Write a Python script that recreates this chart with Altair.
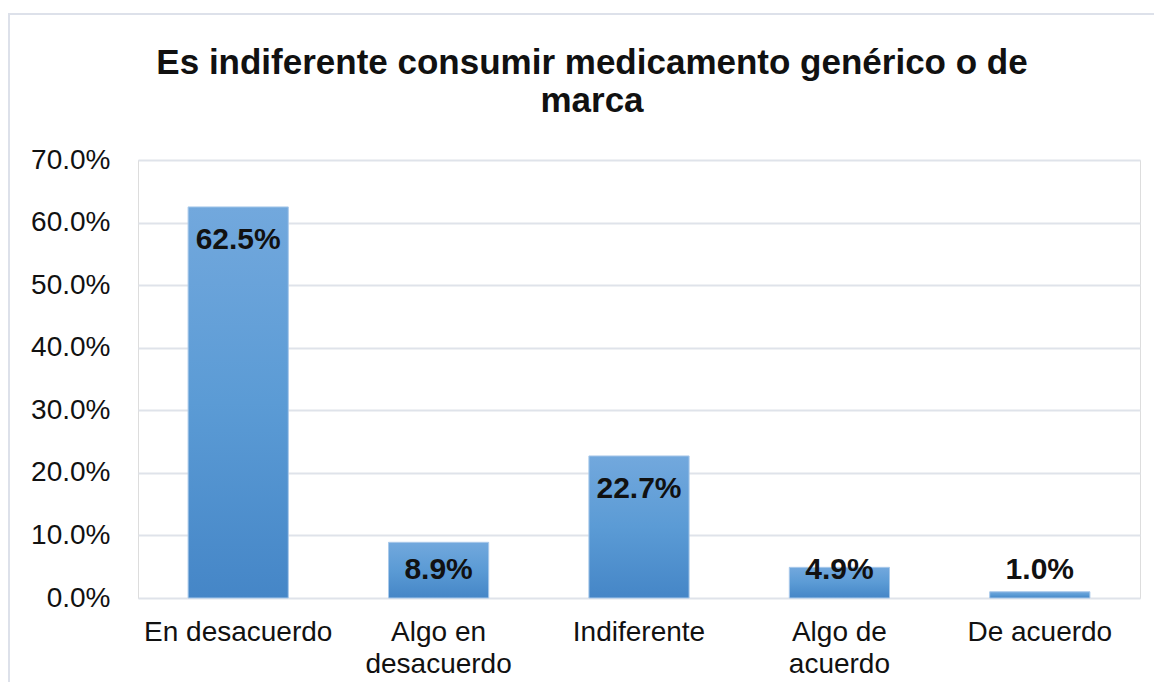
import altair as alt
import pandas as pd

categories = ["En desacuerdo", "Algo en\ndesacuerdo", "Indiferente", "Algo de\nacuerdo", "De acuerdo"]
values = [0.625, 0.089, 0.227, 0.049, 0.010]
y_ticks = [0.0, 0.1, 0.2, 0.3, 0.4, 0.5, 0.6, 0.7]
title_lines = ["Es indiferente consumir medicamento genérico o de", "marca"]

df = pd.DataFrame({"categoria": categories, "valor": values})

FONT = "Liberation Sans, Arial, sans-serif"

gradient = alt.Gradient(
    gradient="linear",
    stops=[
        alt.GradientStop(offset=0, color="#72a8dd"),
        alt.GradientStop(offset=0.5, color="#5b9bd5"),
        alt.GradientStop(offset=1, color="#4586c7"),
    ],
    x1=1, x2=1, y1=0, y2=1,
)

x_enc = alt.X(
    "categoria:N",
    sort=categories,
    scale=alt.Scale(paddingInner=0.5, paddingOuter=0.25),
    axis=alt.Axis(
        title=None, labelAngle=0, ticks=False, domain=False,
        labelFont=FONT, labelFontSize=28, labelColor="#111111",
        labelPadding=20, labelLineHeight=32, labelBaseline="top", labelLimit=400,
        labelExpr="split(datum.label, '\\n')",
    ),
)

base = alt.Chart(df)

bars = base.mark_bar(fill=gradient, stroke="#a9c9ea", strokeWidth=1).encode(
    x=x_enc,
    y=alt.Y(
        "valor:Q",
        scale=alt.Scale(domain=[0, 0.7], nice=False),
        axis=alt.Axis(
            title=None, values=y_ticks, format=".1%", ticks=False, domain=False,
            labelFont=FONT, labelFontSize=28, labelColor="#111111", labelPadding=28,
            grid=True, gridColor="#dfe3ea", gridWidth=2,
        ),
    ),
)

text = base.transform_calculate(
    ly="datum.valor < 0.0975 ? 0.0975 : datum.valor"
).mark_text(
    font=FONT, fontSize=30, fontWeight="bold", color="#111111",
    baseline="top", dy=18,
).encode(
    x=alt.X("categoria:N", sort=categories),
    y=alt.Y("ly:Q"),
    text=alt.Text("valor:Q", format=".1%"),
)

border = alt.Chart(pd.DataFrame({"b": [0]})).mark_rect(
    fill="transparent", stroke="#dde1ea", strokeWidth=2
).encode(
    x=alt.value(-129), x2=alt.value(1100), y=alt.value(-146), y2=alt.value(600)
)

chart = alt.layer(border, bars, text).properties(
    width=1002,
    height=438,
    title=alt.TitleParams(
        text=title_lines, font=FONT, fontSize=35, fontWeight="bold",
        color="#111111", anchor="middle", frame="group", dx=-47, offset=-106, lineHeight=38,
    ),
    autosize=alt.AutoSizeParams(type="none"),
    padding={"left": 130, "top": 152, "right": 14, "bottom": 84},
).configure_view(strokeWidth=0, stroke="transparent").configure(background="white")

chart.save("out.html", embed_options={"renderer": "svg", "actions": False})
